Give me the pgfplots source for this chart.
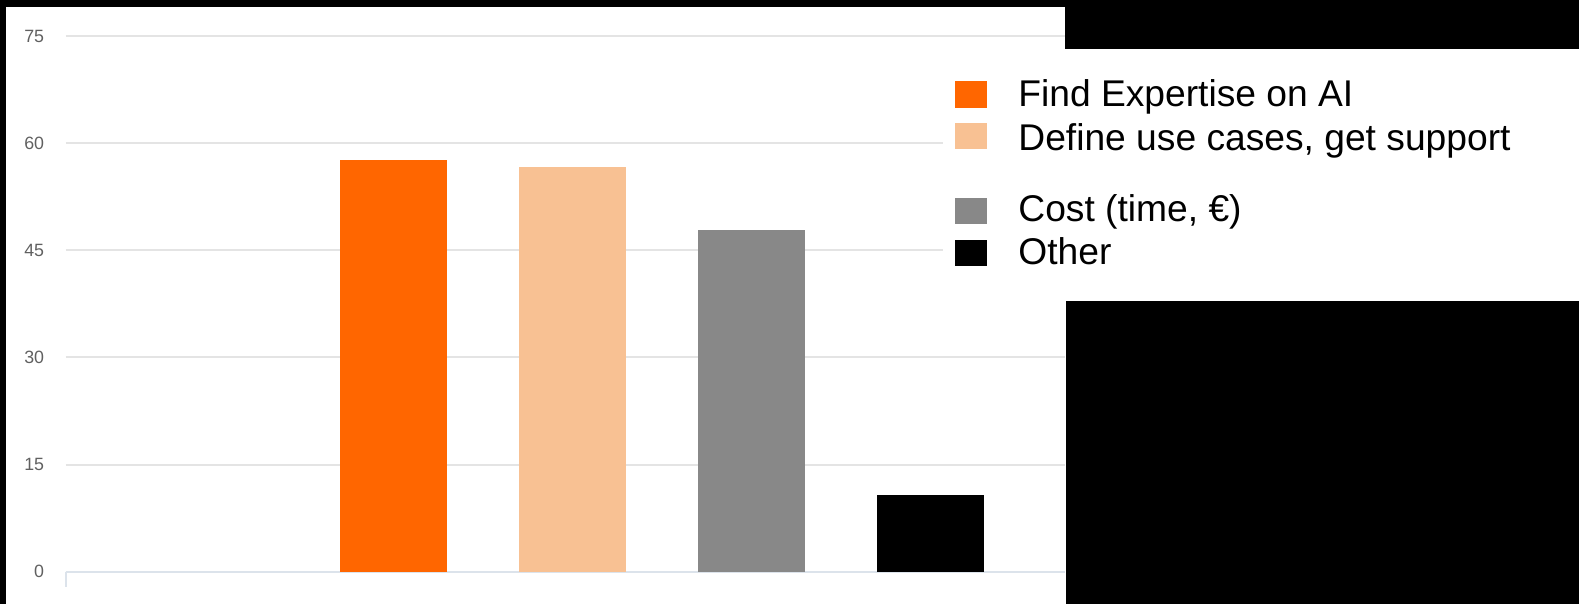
\documentclass[border=0pt]{standalone}
\usepackage{fontspec}
\setmainfont{Liberation Sans}
\usepackage{pgfplots}
\pgfplotsset{compat=1.18}

\definecolor{barA}{HTML}{FF6600}
\definecolor{barB}{HTML}{F8C193}
\definecolor{barC}{HTML}{888888}
\definecolor{gridc}{HTML}{E4E4E4}
\definecolor{axisc}{HTML}{DCE3EB}
\definecolor{tickc}{HTML}{606060}

\begin{document}
\begin{tikzpicture}
\begin{axis}[at={(32.75pt,16.15pt)}, anchor=south west, scale only axis,
    width=499.75pt, height=267.85pt,
    xmin=-0.837, xmax=4.753, ymin=0, ymax=75,
    ytick={0,15,...,75}, xtick={-0.837}, xticklabels={},
    axis x line*=bottom, axis y line*=left,
    y axis line style={draw=none},
    x axis line style={axisc, line width=1pt},
    ymajorgrids, grid style={gridc, line width=1pt},
    tick align=outside, major tick length=7.5pt,
    xtick style={axisc, line width=1pt}, ytick style={draw=none},
    yticklabel style={font=\fontsize{8.9}{10}\selectfont, text=tickc, anchor=east, inner sep=0pt, xshift=-3pt},
    /pgf/number format/assume math mode=true,
    ybar, bar width=53.5pt, bar shift=0pt]
\addplot[fill=barA, draw=none] coordinates {(1,57.7)};
\addplot[fill=barB, draw=none] coordinates {(2,56.6)};
\addplot[fill=barC, draw=none] coordinates {(3,47.8)};
\addplot[fill=black, draw=none] coordinates {(4,10.7)};
\end{axis}
\begin{scope}[x=0.5pt,y=0.5pt]
% frame of the screenshot
\fill[black] (0,597.3) rectangle (1579,604);
\fill[black] (0,0) rectangle (6,604);
\fill[black] (1065,555) rectangle (1579,604);
\fill[black] (1066,0) rectangle (1579,303.3);
\fill[white] (943,303.3) rectangle (1579,555);
% legend
\fill[barA] (955,496) rectangle (987,523);
\fill[barB] (955,455) rectangle (987,481);
\fill[barC] (955,380) rectangle (987,406);
\fill[black] (955,338) rectangle (987,364);
\begin{scope}[every node/.style={anchor=base west, inner sep=0pt, font=\fontsize{18.6}{20}\selectfont}]
\node at (1018,497) {Find Expertise on AI};
\node at (1018,453) {Define use cases, get support};
\node at (1018,382) {Cost (time, €)};
\node at (1018,339) {Other};
\end{scope}
\pgfresetboundingbox
\path[use as bounding box] (0,0) rectangle (1579,604);
\end{scope}
\end{tikzpicture}
\end{document}
